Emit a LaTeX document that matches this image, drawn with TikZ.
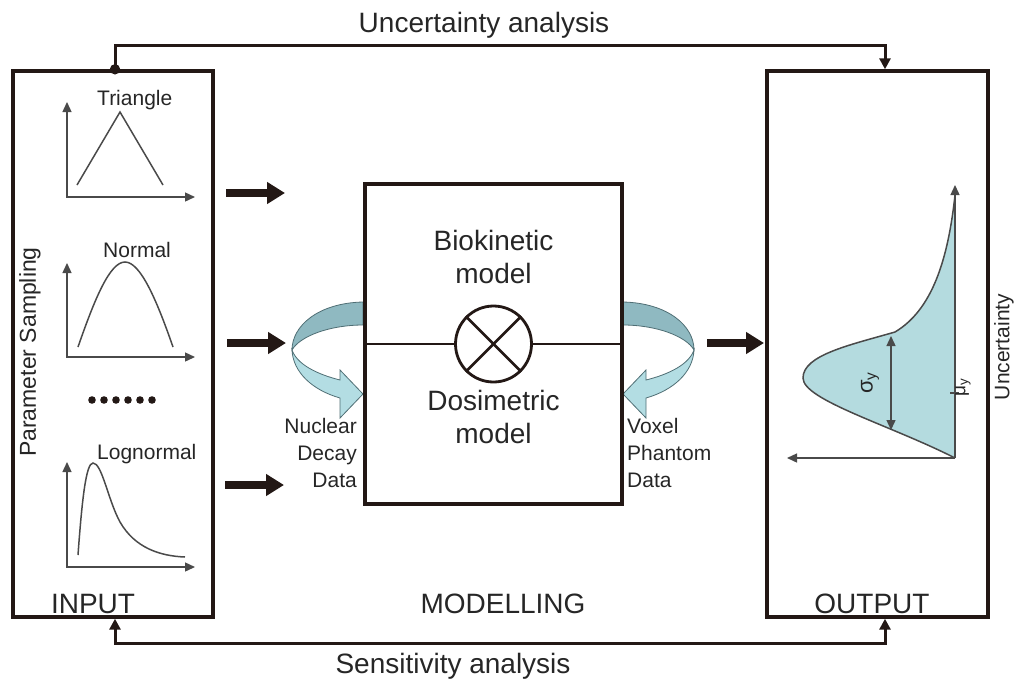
\documentclass[tikz,border=0pt]{standalone}
\usepackage{fontspec}
\setmainfont{Liberation Sans}
\usetikzlibrary{arrows.meta,calc}

\definecolor{ink}{HTML}{231815}
\definecolor{txt}{HTML}{262626}
\definecolor{axisgray}{HTML}{4A4A4A}
\definecolor{ribdark}{HTML}{8FB9C1}
\definecolor{riblight}{HTML}{B3DDE3}
\definecolor{ribedge}{HTML}{4F6E74}
\definecolor{pdffill}{HTML}{B4DBDF}

\tikzset{
  panel/.style={draw=ink, line width=3.4pt, inner sep=0pt},
  fbline/.style={draw=ink, line width=3pt},
  fbtip/.tip={Triangle[length=11pt,width=11pt]},
  fatarrow/.style={draw=ink, line width=7.5pt, -{Triangle[length=18pt,width=21pt]}},
  axline/.style={draw=axisgray, line width=1.4pt},
  axtip/.tip={Triangle[length=10pt,width=9pt]},
  pdfcurve/.style={draw=axisgray, line width=1.5pt},
  bigtext/.style={font=\fontsize{28}{33}\selectfont, text=txt, inner sep=0pt},
  smalltext/.style={font=\fontsize{21}{27}\selectfont, text=txt, inner sep=0pt},
  ribbonpart/.style={draw=ribedge, line width=0.8pt}
}

% a curled band arrow, drawn from the box edge at the local origin
\newcommand{\curlband}{%
  \filldraw[ribbonpart, fill=ribdark]
    (0,-48) .. controls (-45,-47) and (-71,-24) .. (-71,0)
    .. controls (-63,-14) and (-33,-25) .. (0,-25) -- cycle;
  \filldraw[ribbonpart, fill=riblight]
    (-71,0) .. controls (-70,22) and (-51,40) .. (-23,48)
    -- (-23,68) -- (0,44) -- (-23,20) -- (-23,30)
    .. controls (-47,24) and (-66,14) .. (-71,0) -- cycle;
}

\begin{document}
\begin{tikzpicture}[x=1pt,y=-1pt]
\useasboundingbox (0,0) rectangle (1017,681);

% curved data arrows beside the model box
\begin{scope}[shift={(363,350)}]
  \curlband
\end{scope}
\begin{scope}[shift={(623,350)}, xscale=-1]
  \curlband
\end{scope}

% the three panels
\node[panel, minimum width=200pt, minimum height=546pt] (input) at (113,344) {};
\node[panel, minimum width=221pt, minimum height=546pt] (output) at (877.5,344) {};
\node[panel, fill=white, minimum width=257pt, minimum height=320pt] (model) at (493.5,344) {};

% coupling of the two sub-models
\node[draw=ink, line width=2.8pt, circle, minimum size=76pt, inner sep=0pt] (mix) at (493.5,344) {};
\draw[ink, line width=2.8pt] (model.west) -- (mix.west);
\draw[ink, line width=2.8pt] (mix.east) -- (model.east);
\draw[ink, line width=2.8pt] (mix.north west) -- (mix.south east);
\draw[ink, line width=2.8pt] (mix.north east) -- (mix.south west);

\node[bigtext, anchor=base] (bio1) at (493.5,250) {Biokinetic};
\node[bigtext, anchor=base] (bio2) at (493.5,283) {model};
\node[bigtext, anchor=base] (dos1) at (493.5,410) {Dosimetric};
\node[bigtext, anchor=base] (dos2) at (493.5,443) {model};

% feedback loops
\draw[fbline, -fbtip] (115,0 |- input.north) |- (885,45) -- (885,0 |- output.north);
\fill[ink] (115,0 |- input.north) circle (5.2);
\draw[fbline, fbtip-fbtip] (115,0 |- input.south) |- (885,643) -- (885,0 |- output.south);

\node[bigtext, anchor=base] (ua) at (484,32) {Uncertainty analysis};
\node[bigtext, anchor=base] (sa) at (453,673) {Sensitivity analysis};

% panel titles
\node[bigtext, anchor=base] (inlab) at (93,613) {INPUT};
\node[bigtext, anchor=base] (modlab) at (503,613) {MODELLING};
\node[bigtext, anchor=base] (outlab) at (872,613) {OUTPUT};

% flow arrows
\coordinate (f1s) at (226,193); \coordinate (f1e) at (285,193);
\coordinate (f2s) at (227,343); \coordinate (f2e) at (286,343);
\coordinate (f3s) at (225,485); \coordinate (f3e) at (284,485);
\coordinate (f4s) at (707,343); \coordinate (f4e) at (764,343);
\draw[fatarrow] (f1s) -- (f1e);
\draw[fatarrow] (f2s) -- (f2e);
\draw[fatarrow] (f3s) -- (f3e);
\draw[fatarrow] (f4s) -- (f4e);

% input distributions
\node[smalltext, rotate=90] (psamp) at (30,352) {\fontsize{23}{27}\selectfont Parameter Sampling};

\draw[axline, axtip-axtip] (67,102) -- (67,197) -- (195,197);
\draw[pdfcurve] (77,185) -- (120,112) -- (163,185);
\node[smalltext, anchor=base west] (tri) at (97,105) {Triangle};

\draw[axline, axtip-axtip] (67,263) -- (67,357) -- (195,357);
\draw[pdfcurve] (78,347) .. controls (95,298) and (110,262) .. (125,262)
  .. controls (140,262) and (156,298) .. (173,347);
\node[smalltext, anchor=base west] (nor) at (103,257) {Normal};

\foreach \i in {0,...,5} \fill[ink] (92+\i*12,400) circle (3.8);

\draw[axline, axtip-axtip] (67,462) -- (67,567) -- (195,567);
\draw[pdfcurve] (78,555) .. controls (82,500) and (86,463) .. (93,463)
  .. controls (102,463) and (108,500) .. (120,522)
  .. controls (135,548) and (160,556) .. (185,557);
\node[smalltext, anchor=base west] (lgn) at (97,459) {Lognormal};

% data labels
\node[smalltext, anchor=base east] (nd1) at (357,433) {Nuclear};
\node[smalltext, anchor=base east] (nd2) at (357,460) {Decay};
\node[smalltext, anchor=base east] (nd3) at (357,487) {Data};
\node[smalltext, anchor=base west] (vp1) at (627,433) {Voxel};
\node[smalltext, anchor=base west] (vp2) at (627,460) {Phantom};
\node[smalltext, anchor=base west] (vp3) at (627,487) {Data};

% output distribution
\fill[pdffill] (955,458) .. controls (890,425) and (803,400) .. (803,378)
  .. controls (803,355) and (850,345) .. (895,332)
  .. controls (932,310) and (948,260) .. (955,195) -- cycle;
\draw[pdfcurve] (955,458) .. controls (890,425) and (803,400) .. (803,378)
  .. controls (803,355) and (850,345) .. (895,332)
  .. controls (932,310) and (948,260) .. (955,195);
\draw[axline, -axtip] (955,458) -- (955,185);
\draw[axline, -axtip] (955,458) -- (787,458);
\draw[axline, axtip-axtip] (891,336) -- (891,430);
\draw[axline] (950,393) -- (959,393);
\node[smalltext, rotate=90] (sig) at (870,383) {\fontsize{22}{27}\selectfont σ\textsubscript{y}};
\node[smalltext, rotate=90] (mu) at (963,387) {\fontsize{19}{24}\selectfont μ\textsubscript{y}};
\node[smalltext, rotate=90] (unc) at (1004,347) {Uncertainty};
\end{tikzpicture}
\end{document}
